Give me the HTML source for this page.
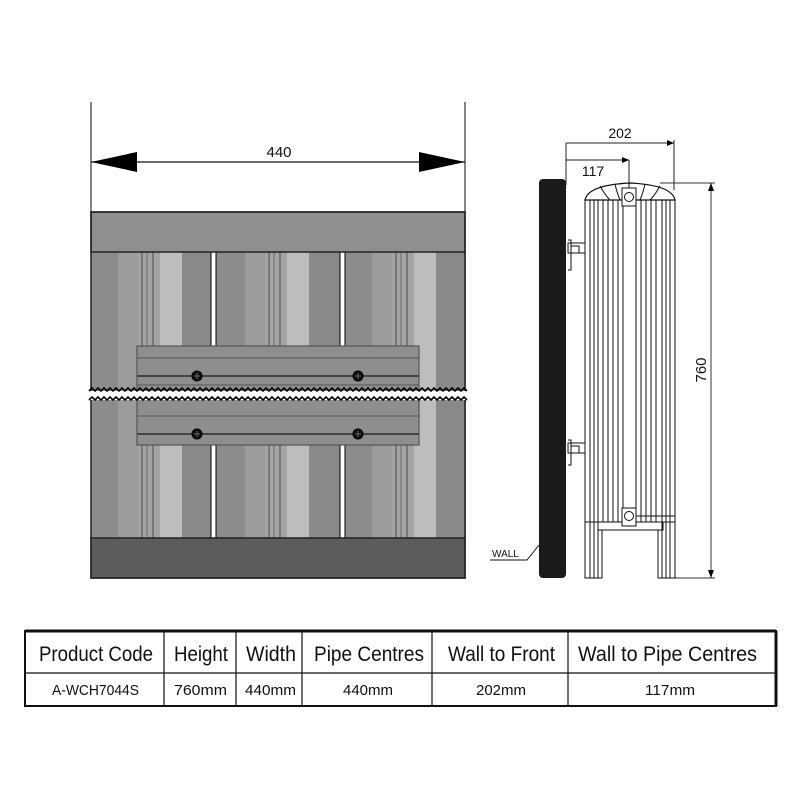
<!DOCTYPE html>
<html><head><style>
html,body{margin:0;padding:0;background:#fff;}
svg{display:block;}
text{font-family:"Liberation Sans",sans-serif;}
</style></head><body>
<svg width="800" height="800" viewBox="0 0 800 800" xmlns="http://www.w3.org/2000/svg">
<defs>
<g id="sec">
  <rect x="0" y="0" width="121" height="286" fill="#8c8c8c"/>
  <rect x="27" y="0" width="20" height="286" fill="#9c9c9c"/>
  <rect x="47" y="0" width="22" height="286" fill="#a4a4a4"/>
  <rect x="50" y="0" width="2" height="286" fill="#777"/>
  <rect x="55" y="0" width="2" height="286" fill="#888"/>
  <rect x="61" y="0" width="2" height="286" fill="#777"/>
  <rect x="69" y="0" width="22" height="286" fill="#bdbdbd"/>
  <rect x="91" y="0" width="30" height="286" fill="#8a8a8a"/>
</g>
</defs>
<line x1="91" y1="102" x2="91" y2="212" stroke="#333" stroke-width="1.2"/>
<line x1="465" y1="102" x2="465" y2="212" stroke="#333" stroke-width="1.2"/>
<line x1="91" y1="162" x2="465" y2="162" stroke="#111" stroke-width="1.2"/>
<polygon points="91,162 137,152 137,172" fill="#000"/>
<polygon points="465,162 419,152 419,172" fill="#000"/>
<text x="279" y="157" font-size="15" text-anchor="middle" fill="#111">440</text>
<rect x="91" y="252" width="374" height="286" fill="#8c8c8c"/>
<use href="#sec" x="91" y="252"/>
<use href="#sec" x="218" y="252"/>
<use href="#sec" x="345" y="252"/>
<rect x="211" y="252" width="5" height="286" fill="#fff" stroke="#000" stroke-width="1"/>
<rect x="340" y="252" width="5" height="286" fill="#fff" stroke="#000" stroke-width="1"/>
<rect x="91" y="212" width="374" height="40" fill="#8f8f8f" stroke="#222" stroke-width="1.5"/>
<rect x="91" y="538" width="374" height="40" fill="#5c5c5c" stroke="#222" stroke-width="1.5"/>
<rect x="91" y="212" width="374" height="366" fill="none" stroke="#222" stroke-width="1.5"/>
<rect x="137" y="346" width="282" height="99" fill="#8e8e8e" stroke="#555" stroke-width="1.2"/>
<line x1="137" y1="358" x2="419" y2="358" stroke="#555"/>
<line x1="137" y1="376" x2="419" y2="376" stroke="#444" stroke-width="2"/>
<line x1="137" y1="385" x2="419" y2="385" stroke="#555"/>
<line x1="137" y1="416" x2="419" y2="416" stroke="#555"/>
<line x1="137" y1="434" x2="419" y2="434" stroke="#444" stroke-width="2"/>
<g fill="#111" stroke="#000"><circle cx="197" cy="376" r="5"/><circle cx="358" cy="376" r="5"/><circle cx="197" cy="434" r="5"/><circle cx="358" cy="434" r="5"/></g>
<g stroke="#777" stroke-width="0.8"><line x1="194" y1="376" x2="200" y2="376"/><line x1="197" y1="373" x2="197" y2="379"/><line x1="355" y1="376" x2="361" y2="376"/><line x1="358" y1="373" x2="358" y2="379"/><line x1="194" y1="434" x2="200" y2="434"/><line x1="197" y1="431" x2="197" y2="437"/><line x1="355" y1="434" x2="361" y2="434"/><line x1="358" y1="431" x2="358" y2="437"/></g>
<rect x="89" y="391" width="378" height="9" fill="#fff"/>
<polyline fill="none" stroke="#000" stroke-width="1.6" points="89,391 92,388 95,391 98,388 101,391 104,388 107,391 110,388 113,391 116,388 119,391 122,388 125,391 128,388 131,391 134,388 137,391 140,388 143,391 146,388 149,391 152,388 155,391 158,388 161,391 164,388 167,391 170,388 173,391 176,388 179,391 182,388 185,391 188,388 191,391 194,388 197,391 200,388 203,391 206,388 209,391 212,388 215,391 218,388 221,391 224,388 227,391 230,388 233,391 236,388 239,391 242,388 245,391 248,388 251,391 254,388 257,391 260,388 263,391 266,388 269,391 272,388 275,391 278,388 281,391 284,388 287,391 290,388 293,391 296,388 299,391 302,388 305,391 308,388 311,391 314,388 317,391 320,388 323,391 326,388 329,391 332,388 335,391 338,388 341,391 344,388 347,391 350,388 353,391 356,388 359,391 362,388 365,391 368,388 371,391 374,388 377,391 380,388 383,391 386,388 389,391 392,388 395,391 398,388 401,391 404,388 407,391 410,388 413,391 416,388 419,391 422,388 425,391 428,388 431,391 434,388 437,391 440,388 443,391 446,388 449,391 452,388 455,391 458,388 461,391 464,388 467,391"/>
<polyline fill="none" stroke="#000" stroke-width="1.6" points="89,400 92,397 95,400 98,397 101,400 104,397 107,400 110,397 113,400 116,397 119,400 122,397 125,400 128,397 131,400 134,397 137,400 140,397 143,400 146,397 149,400 152,397 155,400 158,397 161,400 164,397 167,400 170,397 173,400 176,397 179,400 182,397 185,400 188,397 191,400 194,397 197,400 200,397 203,400 206,397 209,400 212,397 215,400 218,397 221,400 224,397 227,400 230,397 233,400 236,397 239,400 242,397 245,400 248,397 251,400 254,397 257,400 260,397 263,400 266,397 269,400 272,397 275,400 278,397 281,400 284,397 287,400 290,397 293,400 296,397 299,400 302,397 305,400 308,397 311,400 314,397 317,400 320,397 323,400 326,397 329,400 332,397 335,400 338,397 341,400 344,397 347,400 350,397 353,400 356,397 359,400 362,397 365,400 368,397 371,400 374,397 377,400 380,397 383,400 386,397 389,400 392,397 395,400 398,397 401,400 404,397 407,400 410,397 413,400 416,397 419,400 422,397 425,400 428,397 431,400 434,397 437,400 440,397 443,400 446,397 449,400 452,397 455,400 458,397 461,400 464,397 467,400"/>

<rect x="539" y="179" width="27" height="399" rx="4" fill="#1a1a1a"/>
<line x1="566" y1="143" x2="566" y2="185" stroke="#222"/>
<line x1="566" y1="143" x2="674" y2="143" stroke="#222"/>
<polygon points="674,143 667,140 667,146" fill="#000"/>
<line x1="674" y1="140" x2="674" y2="190" stroke="#222"/>
<text x="620" y="138" font-size="14" text-anchor="middle" fill="#111">202</text>
<line x1="566" y1="160" x2="629" y2="160" stroke="#222"/>
<polygon points="629,160 622,157 622,163" fill="#000"/>
<line x1="629" y1="160" x2="629" y2="188" stroke="#222"/>
<text x="593" y="176" font-size="14" text-anchor="middle" fill="#111">117</text>
<line x1="660" y1="183" x2="715" y2="183" stroke="#333"/>
<line x1="660" y1="578" x2="715" y2="578" stroke="#333"/>
<line x1="711" y1="183" x2="711" y2="578" stroke="#333"/>
<polygon points="711,183 708,191 714,191" fill="#000"/>
<polygon points="711,578 708,570 714,570" fill="#000"/>
<text transform="translate(706,370) rotate(-90)" font-size="15" text-anchor="middle" fill="#111">760</text>
<g fill="none" stroke="#111" stroke-width="1">
<path d="M585,200 Q588,185 630,183 Q672,185 675,200 Z" stroke-width="1.2"/>
<path d="M600,186 Q605,195 610,200 M615,184 Q617,193 620,200 M645,184 Q643,193 640,200 M660,186 Q655,195 650,200"/>
<rect x="585" y="200" width="90" height="322"/>
<rect x="598" y="522" width="65" height="8"/>
<path d="M585,522 L585,578 L602,578 L602,530 M675,522 L675,578 L658,578 L658,530"/>
<line x1="590" y1="200" x2="590" y2="578"/><line x1="594" y1="200" x2="594" y2="578"/><line x1="598" y1="200" x2="598" y2="578"/>
<line x1="603" y1="200" x2="603" y2="522"/><line x1="608" y1="200" x2="608" y2="522"/><line x1="613" y1="200" x2="613" y2="522"/>
<line x1="618" y1="200" x2="618" y2="522"/><line x1="623" y1="200" x2="623" y2="522"/><line x1="636" y1="200" x2="636" y2="522"/>
<line x1="641" y1="200" x2="641" y2="522"/><line x1="646" y1="200" x2="646" y2="522"/><line x1="651" y1="200" x2="651" y2="522"/>
<line x1="656" y1="200" x2="656" y2="522"/><line x1="662" y1="200" x2="662" y2="578"/><line x1="666" y1="200" x2="666" y2="578"/><line x1="670" y1="200" x2="670" y2="578"/>
<rect x="622" y="188" width="14" height="18" fill="#fff"/><circle cx="629" cy="197" r="4.5"/>
<rect x="622" y="508" width="14" height="18" fill="#fff"/><circle cx="629" cy="516" r="4.5"/>
<line x1="636" y1="516" x2="675" y2="516"/>
<path d="M568,243 L585,243 L585,253 L568,253 Z M571,246 L579,246 L579,253 M568,240 L571,240 L571,270 L568,270" />
<path d="M568,443 L585,443 L585,453 L568,453 Z M571,446 L579,446 L579,453 M568,440 L571,440 L571,465 L568,465" />
</g>
<text x="492" y="557" font-size="10" fill="#111">WALL</text>
<path d="M490,560 L527,560 L539,545" fill="none" stroke="#111" stroke-width="1"/>

<rect x="25" y="631" width="751" height="75" fill="#fff" stroke="#111" stroke-width="2"/>
<line x1="25" y1="631" x2="776" y2="631" stroke="#111" stroke-width="3"/>
<line x1="776" y1="631" x2="776" y2="706" stroke="#111" stroke-width="3"/>
<line x1="25" y1="673" x2="776" y2="673" stroke="#111" stroke-width="1.2"/>
<g stroke="#111" stroke-width="1.2">
<line x1="164" y1="631" x2="164" y2="706"/><line x1="236" y1="631" x2="236" y2="706"/>
<line x1="302" y1="631" x2="302" y2="706"/><line x1="432" y1="631" x2="432" y2="706"/>
<line x1="568" y1="631" x2="568" y2="706"/></g>
<g font-size="21" fill="#111">
<text x="39" y="661" textLength="114" lengthAdjust="spacingAndGlyphs">Product Code</text>
<text x="174" y="661" textLength="54" lengthAdjust="spacingAndGlyphs">Height</text>
<text x="246" y="661" textLength="50" lengthAdjust="spacingAndGlyphs">Width</text>
<text x="314" y="661" textLength="110" lengthAdjust="spacingAndGlyphs">Pipe Centres</text>
<text x="448" y="661" textLength="107" lengthAdjust="spacingAndGlyphs">Wall to Front</text>
<text x="578" y="661" textLength="179" lengthAdjust="spacingAndGlyphs">Wall to Pipe Centres</text>
</g>
<g font-size="15" fill="#111">
<text x="52" y="695" textLength="87" lengthAdjust="spacingAndGlyphs">A-WCH7044S</text>
<text x="174" y="695" textLength="53" lengthAdjust="spacingAndGlyphs">760mm</text>
<text x="245" y="695" textLength="51" lengthAdjust="spacingAndGlyphs">440mm</text>
<text x="343" y="695" textLength="50" lengthAdjust="spacingAndGlyphs">440mm</text>
<text x="476" y="695" textLength="50" lengthAdjust="spacingAndGlyphs">202mm</text>
<text x="645" y="695" textLength="50" lengthAdjust="spacingAndGlyphs">117mm</text>
</g>
</svg>
</body></html>
